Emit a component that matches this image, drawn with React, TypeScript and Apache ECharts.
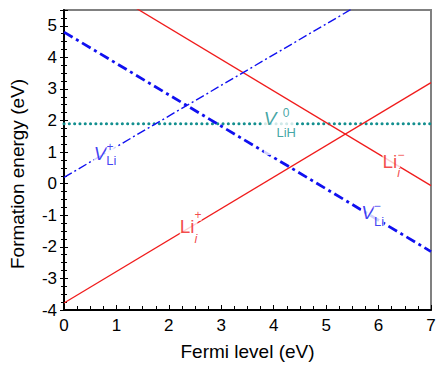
import React, { useEffect, useRef } from "react";
import * as echarts from "echarts";

// Fermi level end points (eV)
const fermiEnds = [0, 7];
// Formation energies (eV) at the two Fermi-level end points
const liIPlus = [-3.78, 3.2];
const liIMinus = [6.93, -0.06];
const vLiPlus = [0.2, 7.0];
const vLiMinus = [4.8, -2.15];
const vLiH0 = [1.9, 1.9];

const yTicks = { min: -4, max: 5.5, interval: 1 };
const xTicks = { min: 0, max: 7, interval: 1 };

const RED = "#f01c1c";
const BLUE = "#1010f0";
const TEAL = "#138f8f";

// Defect labels: anchor [x, y] of the main text's top-left, main text, subscript,
// subscript drop (px), superscript anchor [x, y], superscript text
type Lab = {
  at: [number, number];
  main: string;
  mainItalic: boolean;
  sub: string;
  subItalic: boolean;
  drop: number;
  supAt: [number, number];
  sup: string;
  color: string;
};
const labels: Lab[] = [
  { at: [0.566, 1.257], main: "V", mainItalic: true, sub: "Li", subItalic: false, drop: 5.5, supAt: [0.811, 1.15], sup: "+", color: BLUE },
  { at: [3.811, 2.365], main: "V", mainItalic: true, sub: "LiH", subItalic: false, drop: 12, supAt: [4.17, 2.24], sup: "0", color: TEAL },
  { at: [6.075, 1.0], main: "Li", mainItalic: false, sub: "i", subItalic: true, drop: 9.5, supAt: [6.36, 0.91], sup: "−", color: RED },
  { at: [5.67, -0.596], main: "V", mainItalic: true, sub: "Li", subItalic: false, drop: 7.5, supAt: [5.906, -0.706], sup: "−", color: BLUE },
  { at: [2.208, -1.06], main: "Li", mainItalic: false, sub: "i", subItalic: true, drop: 10, supAt: [2.49, -1.0], sup: "+", color: RED },
];

const FONT = "'Liberation Sans', Arial, sans-serif";

function pts(v: number[]) {
  return fermiEnds.map((x, i) => [x, v[i]]);
}

export default function App() {
  const ref = useRef<HTMLDivElement>(null);
  useEffect(() => {
    if (!ref.current) return;
    const chart = echarts.init(ref.current, null, { renderer: "svg" });

    const labelData: any[] = [];
    labels.forEach((l) => {
      labelData.push({
        value: l.at,
        label: {
          show: true,
          position: "inside",
          align: "left",
          verticalAlign: "top",
          backgroundColor: "#ffffff",
          formatter: `{m|${l.main}}{s|${l.sub}}`,
          rich: {
            m: {
              fontFamily: FONT,
              fontSize: 19,
              fontStyle: l.mainItalic ? "italic" : "normal",
              color: l.color,
              lineHeight: 22,
              verticalAlign: "top",
            },
            s: {
              fontFamily: FONT,
              fontSize: 13,
              fontStyle: l.subItalic ? "italic" : "normal",
              color: l.color,
              lineHeight: 22 + 2 * l.drop,
              verticalAlign: "middle",
            },
          },
        },
      });
    });
    labels.forEach((l) => {
      labelData.push({
        value: l.supAt,
        label: {
          show: true,
          position: "inside",
          align: "left",
          verticalAlign: "middle",
          formatter: l.sup,
          fontFamily: FONT,
          fontSize: 12,
          lineHeight: 11,
          color: l.color,
          backgroundColor: "#ffffff",
        },
      });
    });

    const lineBase = { type: "line", showSymbol: false, symbol: "none", clip: true, silent: true };

    chart.setOption({
      animation: false,
      grid: {
        left: 60,
        top: 10,
        width: 371,
        height: 300,
        show: true,
        borderColor: "#808080",
        borderWidth: 2,
        backgroundColor: "transparent",
      },
      xAxis: {
        type: "value",
        ...xTicks,
        name: "Fermi level (eV)",
        nameLocation: "middle",
        nameGap: 32,
        nameTextStyle: { fontFamily: FONT, fontSize: 19, color: "#000" },
        axisLine: { show: true, onZero: false, lineStyle: { color: "#000", width: 2 } },
        axisTick: { show: true, inside: true, length: 5, lineStyle: { color: "#000" } },
        minorTick: { show: true, splitNumber: 4, length: 4, lineStyle: { color: "#000" } },
        axisLabel: { fontFamily: FONT, fontSize: 17, color: "#000", margin: 7 },
        splitLine: { show: false },
      },
      yAxis: [
        {
          type: "value",
          ...yTicks,
          name: "Formation energy (eV)",
          nameLocation: "middle",
          nameGap: 37,
          nameTextStyle: { fontFamily: FONT, fontSize: 19, color: "#000", padding: [0, 28, 0, 0] },
          axisLine: { show: true, onZero: false, lineStyle: { color: "#000", width: 2 } },
          axisTick: { show: true, inside: false, length: 4, lineStyle: { color: "#000" } },
          minorTick: { show: true, splitNumber: 4, length: 3, lineStyle: { color: "#000" } },
          axisLabel: {
            fontFamily: FONT,
            fontSize: 17,
            color: "#000",
            margin: 7,
            showMaxLabel: false,
            formatter: (v: number) => (Number.isInteger(v) ? String(v) : ""),
          },
          splitLine: { show: false },
        },
        {
          type: "value",
          ...yTicks,
          position: "left",
          offset: 0,
          axisLine: { show: false, onZero: false },
          axisTick: { show: true, inside: true, length: 4, lineStyle: { color: "#000" } },
          minorTick: { show: true, splitNumber: 4, length: 3, lineStyle: { color: "#000" } },
          axisLabel: { show: false },
          splitLine: { show: false },
        },
      ],
      series: [
        { ...lineBase, name: "VLiH0", data: pts(vLiH0), lineStyle: { color: TEAL, width: 3, type: [0.1, 5.2], cap: "round" } },
        { ...lineBase, name: "Li_i+", data: pts(liIPlus), lineStyle: { color: RED, width: 1.3 } },
        { ...lineBase, name: "Li_i-", data: pts(liIMinus), lineStyle: { color: RED, width: 1.3 } },
        { ...lineBase, name: "VLi+", data: pts(vLiPlus), lineStyle: { color: BLUE, width: 1.4, type: [9, 3, 2, 3] } },
        { ...lineBase, name: "VLi-", data: pts(vLiMinus), lineStyle: { color: BLUE, width: 2.8, type: [10, 4, 3, 4] } },
        {
          type: "scatter",
          name: "labels",
          symbolSize: 0,
          silent: true,
          z: 5,
          data: labelData,
        },
      ],
    });
    return () => chart.dispose();
  }, []);
  return (
    <div
      ref={ref}
      style={{ position: "absolute", left: 0, top: 0, width: 443, height: 369, background: "#fff" }}
    />
  );
}
